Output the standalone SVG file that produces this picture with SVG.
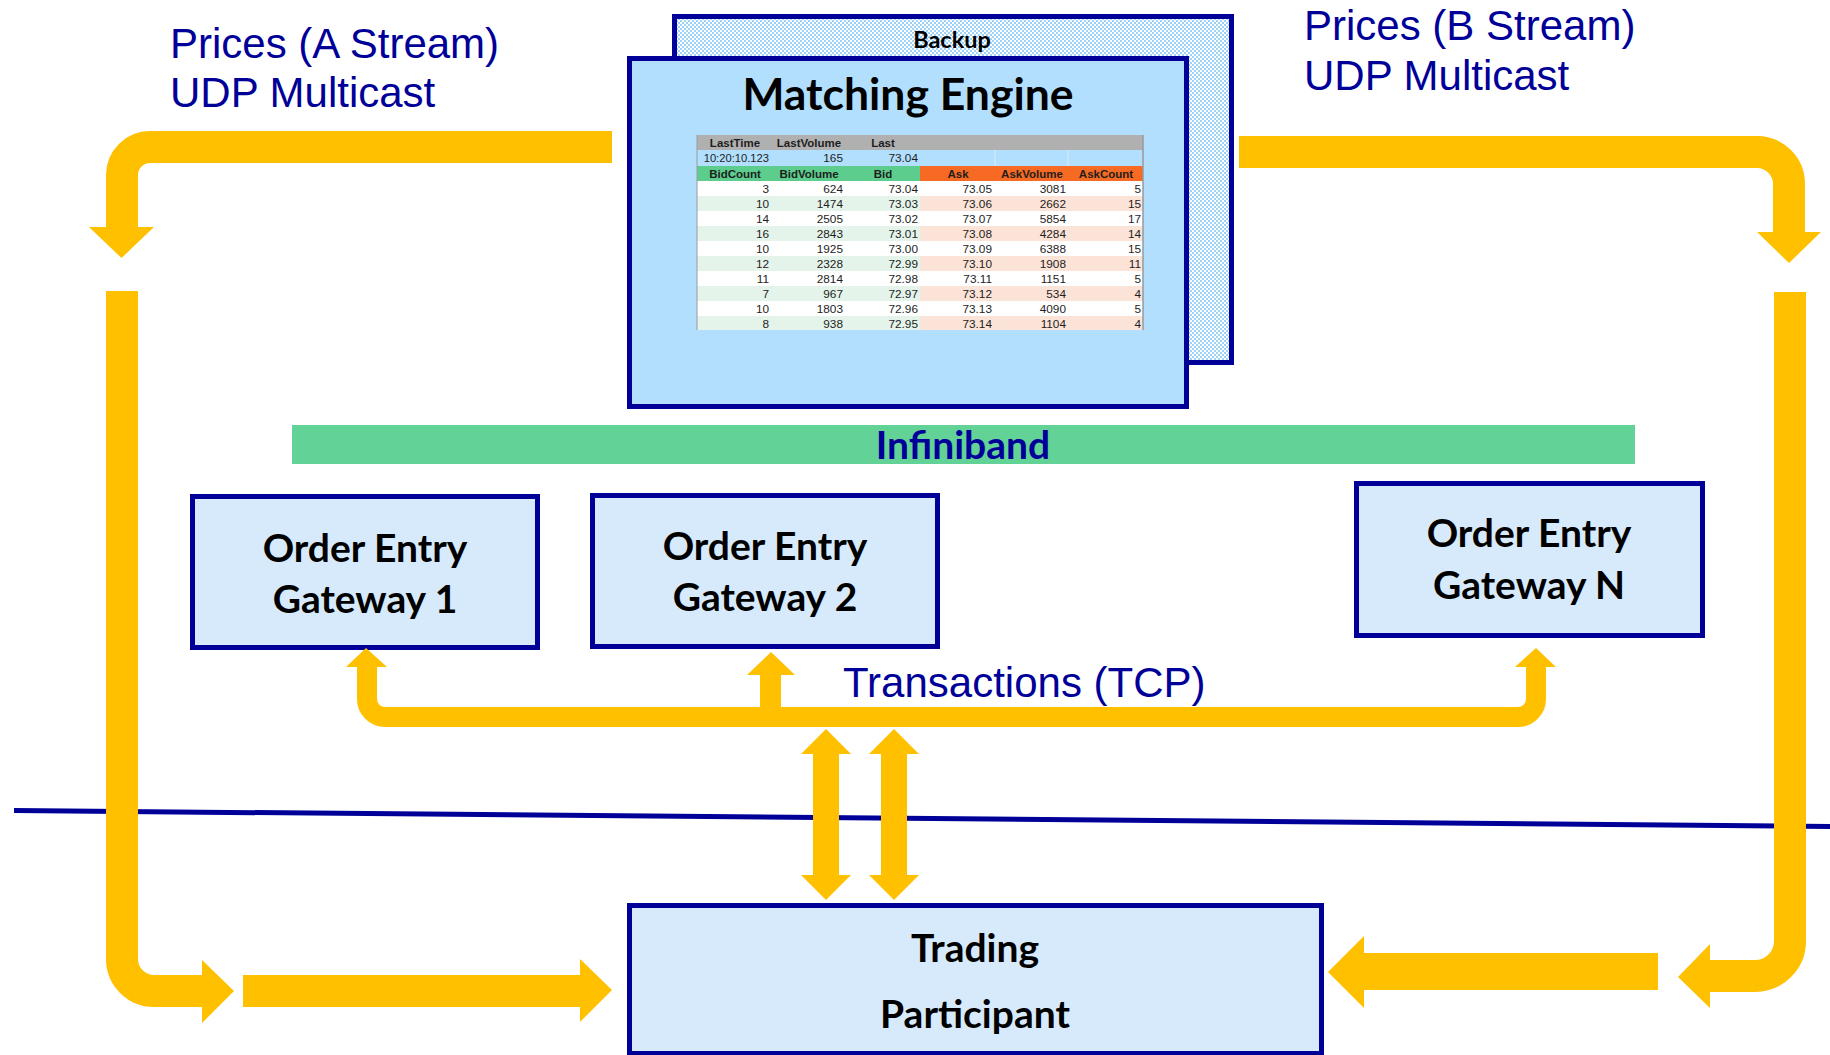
<svg xmlns="http://www.w3.org/2000/svg" width="1830" height="1055" viewBox="0 0 1830 1055">
  <defs>
    <pattern id="dots" width="4" height="4" patternUnits="userSpaceOnUse">
      <rect width="4" height="4" fill="#ffffff"/>
      <rect width="2" height="2" fill="#9ED2F6"/>
      <rect x="2" y="2" width="2" height="2" fill="#9ED2F6"/>
    </pattern>
    <style>
      .box { stroke: #000099; stroke-width: 5; }
      .pale { fill: #D6EAFC; }
      .title { font-family: Lato, "Open Sans", "Liberation Sans", sans-serif; font-weight: 700; fill: #000000; text-anchor: middle; }
      .lbl { font-family: "Liberation Sans", Arial, sans-serif; font-size: 42px; fill: #000099; }
      .flow { fill: none; stroke: #FFC000; stroke-linecap: butt; }
      .head { fill: #FFC000; }
      .tb { font-family: "Liberation Sans", Arial, sans-serif; font-size: 11.8px; fill: #1E1E1E; text-anchor: end; }
      .th { font-family: "Liberation Sans", Arial, sans-serif; font-size: 11.5px; font-weight: 700; fill: #1E1E1E; text-anchor: middle; }
    </style>
  </defs>

  <rect width="1830" height="1055" fill="#ffffff"/>

  <!-- stream labels -->
  <g id="labels">
    <text class="lbl" x="170" y="58">Prices (A Stream)</text>
    <text class="lbl" x="170" y="107">UDP Multicast</text>
    <text class="lbl" x="1304" y="40">Prices (B Stream)</text>
    <text class="lbl" x="1304" y="90">UDP Multicast</text>
    <text class="lbl" x="843" y="697">Transactions (TCP)</text>
  </g>

  <!-- backup engine behind the primary one -->
  <g id="node-backup">
    <rect class="box" x="674.5" y="16.5" width="557" height="346" fill="url(#dots)"/>
    <text class="title" x="952" y="48" font-size="23.5">Backup</text>
  </g>

  <!-- primary matching engine with order book -->
  <g id="node-matching-engine">
    <rect class="box" x="629.5" y="58.5" width="557" height="348" fill="#B1DFFD"/>
    <text class="title" x="908" y="110" font-size="44.5">Matching Engine</text>

    <g id="order-book">
      <!-- header rows -->
      <rect x="697" y="135" width="446" height="15" fill="#B0B0B0"/>
      <rect x="697" y="150" width="446" height="16" fill="#B1DFFD"/>
      <line x1="995" y1="150" x2="995" y2="166" stroke="#D8EEFC" stroke-width="1"/>
      <line x1="1068" y1="150" x2="1068" y2="166" stroke="#D8EEFC" stroke-width="1"/>
      <rect x="697" y="166" width="223" height="15" fill="#5DCD8D"/>
      <rect x="920" y="166" width="223" height="15" fill="#F76A24"/>
      <!-- body rows -->
      <rect x="697" y="181" width="446" height="149" fill="#ffffff"/>
      <g fill="#E4F4EA">
        <rect x="697" y="196" width="223" height="15"/>
        <rect x="697" y="226" width="223" height="15"/>
        <rect x="697" y="256" width="223" height="15"/>
        <rect x="697" y="286" width="223" height="15"/>
        <rect x="697" y="316" width="223" height="14"/>
      </g>
      <g fill="#FCE3D7">
        <rect x="920" y="196" width="223" height="15"/>
        <rect x="920" y="226" width="223" height="15"/>
        <rect x="920" y="256" width="223" height="15"/>
        <rect x="920" y="286" width="223" height="15"/>
        <rect x="920" y="316" width="223" height="14"/>
      </g>
      <line x1="697" y1="135" x2="697" y2="330" stroke="#9A9A9A" stroke-width="1"/>
      <line x1="1143" y1="135" x2="1143" y2="330" stroke="#9A9A9A" stroke-width="1.5"/>

      <text class="th" y="147"><tspan x="735">LastTime</tspan><tspan x="809">LastVolume</tspan><tspan x="883">Last</tspan></text>
      <text class="tb" y="162"><tspan x="769" font-size="11.2">10:20:10.123</tspan><tspan x="843">165</tspan><tspan x="918">73.04</tspan></text>
      <text class="th" y="178"><tspan x="735">BidCount</tspan><tspan x="809">BidVolume</tspan><tspan x="883">Bid</tspan><tspan x="958">Ask</tspan><tspan x="1032">AskVolume</tspan><tspan x="1106">AskCount</tspan></text>

      <text class="tb" y="193"><tspan x="769">3</tspan><tspan x="843">624</tspan><tspan x="918">73.04</tspan><tspan x="992">73.05</tspan><tspan x="1066">3081</tspan><tspan x="1141">5</tspan></text>
      <text class="tb" y="208"><tspan x="769">10</tspan><tspan x="843">1474</tspan><tspan x="918">73.03</tspan><tspan x="992">73.06</tspan><tspan x="1066">2662</tspan><tspan x="1141">15</tspan></text>
      <text class="tb" y="223"><tspan x="769">14</tspan><tspan x="843">2505</tspan><tspan x="918">73.02</tspan><tspan x="992">73.07</tspan><tspan x="1066">5854</tspan><tspan x="1141">17</tspan></text>
      <text class="tb" y="238"><tspan x="769">16</tspan><tspan x="843">2843</tspan><tspan x="918">73.01</tspan><tspan x="992">73.08</tspan><tspan x="1066">4284</tspan><tspan x="1141">14</tspan></text>
      <text class="tb" y="253"><tspan x="769">10</tspan><tspan x="843">1925</tspan><tspan x="918">73.00</tspan><tspan x="992">73.09</tspan><tspan x="1066">6388</tspan><tspan x="1141">15</tspan></text>
      <text class="tb" y="268"><tspan x="769">12</tspan><tspan x="843">2328</tspan><tspan x="918">72.99</tspan><tspan x="992">73.10</tspan><tspan x="1066">1908</tspan><tspan x="1141">11</tspan></text>
      <text class="tb" y="283"><tspan x="769">11</tspan><tspan x="843">2814</tspan><tspan x="918">72.98</tspan><tspan x="992">73.11</tspan><tspan x="1066">1151</tspan><tspan x="1141">5</tspan></text>
      <text class="tb" y="298"><tspan x="769">7</tspan><tspan x="843">967</tspan><tspan x="918">72.97</tspan><tspan x="992">73.12</tspan><tspan x="1066">534</tspan><tspan x="1141">4</tspan></text>
      <text class="tb" y="313"><tspan x="769">10</tspan><tspan x="843">1803</tspan><tspan x="918">72.96</tspan><tspan x="992">73.13</tspan><tspan x="1066">4090</tspan><tspan x="1141">5</tspan></text>
      <text class="tb" y="328"><tspan x="769">8</tspan><tspan x="843">938</tspan><tspan x="918">72.95</tspan><tspan x="992">73.14</tspan><tspan x="1066">1104</tspan><tspan x="1141">4</tspan></text>
    </g>
  </g>

  <!-- interconnect bar -->
  <g id="node-infiniband">
    <rect x="292" y="425" width="1343" height="39" fill="#62D296"/>
    <text class="title" x="963" y="459" font-size="39" style="fill:#000099">Infiniband</text>
  </g>

  <g id="node-gateway-1">
    <rect class="box pale" x="192.5" y="496.5" width="345" height="151"/>
    <text class="title" x="365" y="562" font-size="39">Order Entry</text>
    <text class="title" x="365" y="613" font-size="39">Gateway 1</text>
  </g>

  <g id="node-gateway-2">
    <rect class="box pale" x="592.5" y="495.5" width="345" height="151"/>
    <text class="title" x="765" y="560" font-size="39">Order Entry</text>
    <text class="title" x="765" y="611" font-size="39">Gateway 2</text>
  </g>

  <g id="node-gateway-n">
    <rect class="box pale" x="1356.5" y="483.5" width="346" height="152"/>
    <text class="title" x="1529" y="547" font-size="39">Order Entry</text>
    <text class="title" x="1529" y="599" font-size="39">Gateway N</text>
  </g>

  <!-- network boundary -->
  <line id="boundary" x1="14" y1="810.5" x2="1830" y2="826.5" stroke="#000099" stroke-width="5"/>

  <g id="node-trading-participant">
    <rect class="box pale" x="629.5" y="905.5" width="692" height="148"/>
    <text class="title" x="975" y="962" font-size="39">Trading</text>
    <text class="title" x="975" y="1028" font-size="39">Participant</text>
  </g>

  <g id="connectors">
    <!-- A stream: engine to participant, left side -->
    <path class="flow" stroke-width="32" d="M612 147 H150 A28 28 0 0 0 122 175 V228"/>
    <polygon class="head" points="89,227 154,227 121.5,258"/>
    <path class="flow" stroke-width="32" d="M122 291 V959 A32 32 0 0 0 154 991 H203"/>
    <polygon class="head" points="202,960 202,1023 234,991"/>
    <rect class="head" x="243" y="975" width="338" height="32"/>
    <polygon class="head" points="580,959 580,1022 612,990"/>

    <!-- B stream: engine to participant, right side -->
    <path class="flow" stroke-width="32" d="M1239 152 H1757 A32 32 0 0 1 1789 184 V233"/>
    <polygon class="head" points="1757,232 1821,232 1789,263"/>
    <path class="flow" stroke-width="32" d="M1790 292 V941 A35 35 0 0 1 1755 976 H1709"/>
    <polygon class="head" points="1710,944 1710,1008 1678,977"/>
    <rect class="head" x="1363" y="953" width="295" height="37"/>
    <polygon class="head" points="1364,936 1364,1008 1328,972"/>

    <!-- TCP transaction bus to the gateways -->
    <path class="flow" stroke-width="20" d="M367 666 V699 A18 18 0 0 0 385 717 H1518 A18 18 0 0 0 1536 699 V666"/>
    <polygon class="head" points="346,667 387,667 366,648"/>
    <polygon class="head" points="1515,667 1556,667 1536,648"/>
    <rect class="head" x="760" y="674" width="21" height="36"/>
    <polygon class="head" points="747,675 795,675 771,652"/>

    <!-- bidirectional links to the participant -->
    <rect class="head" x="813" y="753" width="26" height="123"/>
    <polygon class="head" points="801,754 851,754 826,729"/>
    <polygon class="head" points="801,875 851,875 826,900"/>
    <rect class="head" x="881" y="753" width="26" height="123"/>
    <polygon class="head" points="869,754 919,754 894,729"/>
    <polygon class="head" points="869,875 919,875 894,900"/>
  </g>
</svg>
